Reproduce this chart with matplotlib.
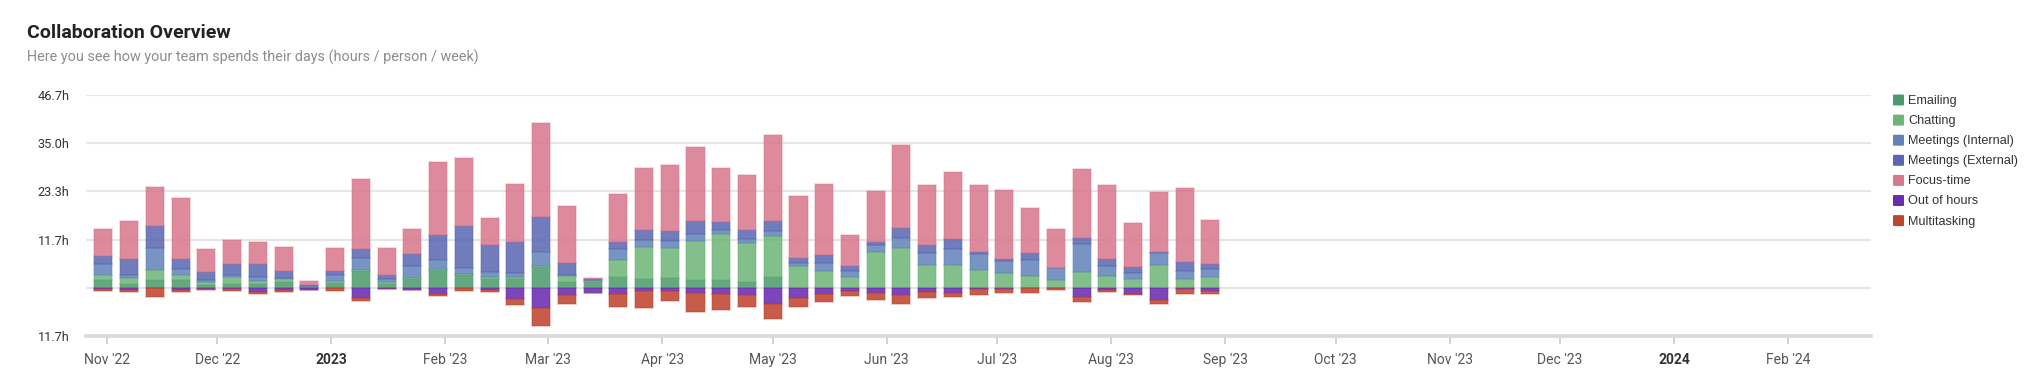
import matplotlib
matplotlib.use("Agg")
import matplotlib.pyplot as plt
import matplotlib.dates as mdates
from matplotlib.patches import FancyBboxPatch
from matplotlib.colors import to_rgba
import numpy as np
import pandas as pd

# ---------------- data ----------------
week_start = "2022-10-31"
n_weeks = 44
series_names = ["Emailing", "Chatting", "Meetings (Internal)", "Meetings (External)",
                "Focus-time", "Out of hours", "Multitasking"]

emailing = [1.93, 0.97, 1.93, 1.93, 0.56, 0.97, 0.89, 1.45, 0.1, 1.05, 4.19, 0.97, 2.25, 4.43,
            3.22, 2.09, 2.25, 5.07, 1.45, 1.45, 2.58, 2.09, 2.42, 2.01, 1.77, 1.29, 2.66,
            0, 0, 0, 0, 0, 0, 0, 0, 0, 0, 0, 0, 0, 0, 0, 0, 0]
chatting = [1.29, 1.37, 2.5, 1.29, 0.89, 1.61, 0.81, 0.64, 0.1, 0.48, 0.15, 0.48, 0.15, 0.15,
            0.15, 0.64, 0.32, 0.32, 1.29, 0.16, 4.11, 7.73, 7.17, 9.34, 11.35, 9.66, 9.98,
            5.23, 3.95, 2.58, 8.78, 9.66, 5.64, 5.47, 4.27, 3.7, 2.8, 2.0, 3.8, 2.8, 2.25,
            5.47, 2.1, 2.5]
meetings_internal = [2.5, 0.64, 5.15, 1.29, 0.56, 0.64, 0.81, 0.3, 0.15, 1.45, 2.98, 0.64, 2.98,
                     2.25, 1.45, 1.13, 0.97, 3.38, 0.48, 0.16, 2.82, 1.85, 1.85, 1.77, 0.97, 0.8,
                     1.05, 0.72, 2.01, 1.45, 1.53, 2.5, 2.74, 3.86, 4.03, 2.74, 4.03, 2.74, 6.92,
                     2.58, 1.37, 3.06, 1.93, 2.01]
meetings_external = [2.01, 4.03, 5.31, 2.42, 1.77, 2.58, 3.14, 1.7, 0.3, 1.21, 2.01, 1.13, 2.74,
                     6.04, 10.2, 6.52, 7.65, 8.45, 2.74, 0.32, 1.53, 2.42, 2.42, 3.06, 1.85, 2.17,
                     2.58, 1.37, 2.01, 1.21, 0.8, 2.34, 2.01, 2.5, 0.48, 0.56, 1.53, 0.1, 1.29,
                     1.61, 1.37, 0.1, 2.25, 1.21]
focus_time = [6.6, 9.26, 9.42, 14.9, 5.72, 5.88, 5.56, 5.88, 1.0, 5.39, 16.99, 6.36, 6.2, 17.5,
              16.5, 6.52, 14.0, 22.7, 13.9, 0.32, 11.6, 14.98, 15.8, 17.95, 12.96, 13.37, 20.85,
              14.8, 17.07, 7.49, 12.4, 20.1, 14.4, 16.1, 16.1, 16.8, 11.0, 9.34, 16.8, 17.8,
              10.7, 14.6, 17.8, 10.8]
out_of_hours = [0.2, 0.56, 0.15, 0.64, 0.24, 0.24, 1.05, 0.64, 0.48, 0.15, 2.58, 0.25, 0.48,
                1.53, 0.0, 0.56, 2.82, 4.99, 1.77, 1.29, 1.53, 0.8, 0.72, 1.29, 1.61, 1.85, 4.03,
                2.42, 1.53, 0.89, 1.37, 1.85, 1.13, 1.21, 0.3, 0.24, 0.16, 0.0, 2.17, 0.48, 1.45,
                3.06, 0.4, 0.8]
multitasking = [0.6, 0.48, 2.0, 0.32, 0.24, 0.56, 0.4, 0.32, 0.0, 0.64, 0.64, 0.1, 0.0, 0.4,
                0.72, 0.56, 1.45, 4.27, 2.25, 0.0, 3.06, 4.1, 2.58, 4.59, 3.86, 2.9, 3.54, 2.34,
                1.85, 1.21, 1.61, 2.17, 1.37, 0.97, 1.45, 1.05, 1.13, 0.56, 1.29, 0.48, 0.4,
                0.97, 1.05, 0.8]

y_ticks = [-11.675, 0, 11.675, 23.35, 35.025, 46.7]
y_tick_labels = ["11.7h", "", "11.7h", "23.3h", "35.0h", "46.7h"]
x_tick_dates = ["2022-11-01", "2022-12-01", "2023-01-01", "2023-02-01", "2023-03-01",
                "2023-04-01", "2023-05-01", "2023-06-01", "2023-07-01", "2023-08-01",
                "2023-09-01", "2023-10-01", "2023-11-01", "2023-12-01", "2024-01-01",
                "2024-02-01"]
x_tick_labels = ["Nov '22", "Dec '22", "2023", "Feb '23", "Mar '23", "Apr '23", "May '23",
                 "Jun '23", "Jul '23", "Aug '23", "Sep '23", "Oct '23", "Nov '23", "Dec '23",
                 "2024", "Feb '24"]
x_range = ["2022-10-26 07:00", "2024-02-23 14:00"]

title = "Collaboration Overview"
subtitle = "Here you see how your team spends their days (hours / person / week)"

colors = ["#4b9a6b", "#6db577", "#6283b8", "#5966b0", "#d8778d", "#6a2bb0", "#be4530"]

# ---------------- figure ----------------
W, H = 2041, 389
fig = plt.figure(figsize=(W / 100, H / 100), dpi=100)
L, R, T, B = 86, 1871, 95, 336
ax = fig.add_axes([L / W, 1 - B / H, (R - L) / W, (B - T) / H])

weeks = pd.date_range(week_start, periods=n_weeks, freq="7D")
x = mdates.date2num(weeks.to_pydatetime())
bar_w = 4.9

pos_series = [emailing, chatting, meetings_internal, meetings_external, focus_time]
neg_series = [out_of_hours, multitasking]

def face(c, a=0.86):
    return to_rgba(c, a)

def edge(c, a=0.3):
    return to_rgba(c, a)

bottom = np.zeros(n_weeks)
for vals, c in zip(pos_series, colors[:5]):
    v = np.array(vals, dtype=float)
    ax.bar(x, v, width=bar_w, bottom=bottom, facecolor=face(c), edgecolor=edge(c),
           linewidth=1.3, zorder=3)
    bottom += v

bottom = np.zeros(n_weeks)
for vals, c in zip(neg_series, colors[5:]):
    v = -np.array(vals, dtype=float)
    ax.bar(x, v, width=bar_w, bottom=bottom, facecolor=face(c, 0.88), edgecolor=edge(c),
           linewidth=1.3, zorder=3)
    bottom += v

ax.set_ylim(y_ticks[0], y_ticks[-1])
ax.set_xlim(mdates.date2num(pd.Timestamp(x_range[0])), mdates.date2num(pd.Timestamp(x_range[1])))

# grid lines
for yv in y_ticks[1:]:
    ax.axhline(yv, color="#e6e6e6", linewidth=1.5, zorder=1)
ax.axhline(y_ticks[0], color="#d9d9d9", linewidth=2.6, zorder=4, clip_on=False)

for s in ax.spines.values():
    s.set_visible(False)

ax.set_yticks(y_ticks)
ax.set_yticklabels(y_tick_labels)
ax.tick_params(axis="y", length=0, pad=12, labelsize=9.2, labelcolor="#333333")
for lab in ax.get_yticklabels():
    lab.set_fontfamily("Roboto")

xt = mdates.date2num(pd.to_datetime(x_tick_dates).to_pydatetime())
ax.set_xticks(xt)
ax.set_xticklabels(x_tick_labels)
ax.tick_params(axis="x", length=6, width=1.2, color="#cccccc", pad=6, labelsize=10,
               labelcolor="#555555")
for lab in ax.get_xticklabels():
    lab.set_fontfamily("Roboto")
    if lab.get_text() in ("2023", "2024"):
        lab.set_fontweight("bold")
        lab.set_color("#333333")

# titles
fig.text(27 / W, 1 - 33 / H, title, fontsize=14, fontweight="bold", family="Roboto",
         color="#222222", va="center", ha="left")
fig.text(27 / W, 1 - 57 / H, subtitle, fontsize=10.4, family="Roboto",
         color="#8c8c8c", va="center", ha="left")

# legend
leg_x = 1893
leg_y0 = 100
leg_dy = 20.1
for i, (name, c) in enumerate(zip(series_names, colors)):
    yc = leg_y0 + i * leg_dy
    sw = 11
    patch = FancyBboxPatch(((leg_x) / W, 1 - (yc + sw / 2) / H), sw / W, sw / H,
                           boxstyle="round,pad=0,rounding_size=0.0012",
                           transform=fig.transFigure, facecolor=c, edgecolor="none")
    fig.patches.append(patch)
    fig.text((leg_x + 15) / W, 1 - (yc + 1) / H, name, fontsize=9.1,
             family=["Liberation Sans", "DejaVu Sans"], color="#333333",
             va="center", ha="left")

fig.savefig("out.png", dpi=100, facecolor="white")
